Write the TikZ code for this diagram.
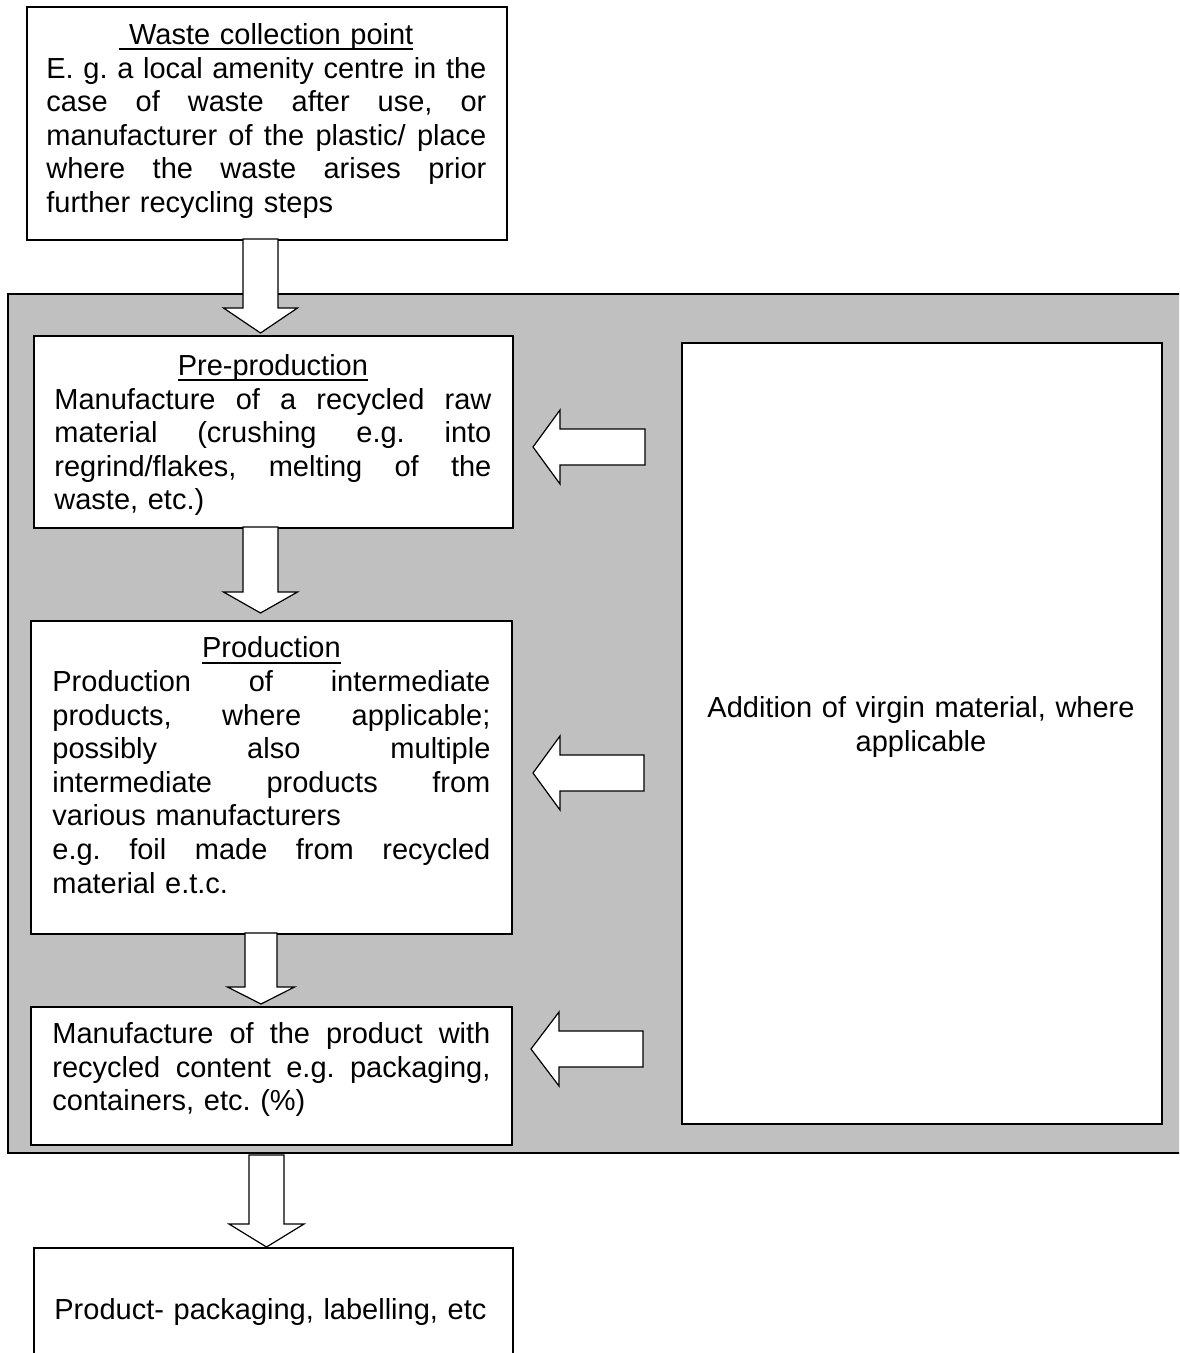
\documentclass[tikz,border=0pt]{standalone}
\usepackage{fontspec}
\setmainfont{Liberation Sans}
\usetikzlibrary{calc}
\definecolor{panelgray}{RGB}{192,192,192}

\newcommand{\ulbox}[1]{\setbox0\hbox{#1}\rlap{\rule[-3pt]{\wd0}{1pt}}\box0}
\def\jwA#1 #2\jwend{#1\if\relax\detokenize{#2}\relax\else\hfill\jwA#2\jwend\fi}
\newcommand{\tjust}[1]{\hbox to\linewidth{\strut\jwA#1 \jwend}\par}
\newcommand{\tleft}[1]{\makebox[\linewidth][l]{\strut#1}\par}
\newcommand{\tcent}[1]{\makebox[\linewidth][c]{\strut#1}\par}

\newcommand{\downblock}[5]{%
  \draw[blockarrow] let \p1=(#1), \p2=(#2) in
    (\x1-#4,\y1) -- (\x1-#4,\y2+#3) -- (\x1-#5,\y2+#3) -- (\x2,\y2)
    -- (\x1+#5,\y2+#3) -- (\x1+#4,\y2+#3) -- (\x1+#4,\y1) -- cycle;}
\newcommand{\leftblock}[5]{%
  \draw[blockarrow] let \p1=(#1), \p2=(#2) in
    (\x1,\y1+#4) -- (\x2+#3,\y1+#4) -- (\x2+#3,\y1+#5) -- (\x2,\y2)
    -- (\x2+#3,\y1-#5) -- (\x2+#3,\y1-#4) -- (\x1,\y1-#4) -- cycle;}

\begin{document}
\frenchspacing
\begin{tikzpicture}[x=0.5pt,y=-0.5pt,
  panel/.style={draw=black, line width=0.9pt, fill=white, inner sep=0pt, anchor=north west},
  txt/.style={inner sep=0pt, font=\fontsize{14.5pt}{16.8pt}\selectfont},
  blockarrow/.style={draw=black, line width=0.6pt, fill=white, line join=miter}]
\useasboundingbox (0,0) rectangle (1179,1353);
\clip (0,0) rectangle (1179,1353);

% boxes
\node[panel, minimum width=240pt, minimum height=116.5pt] (waste) at (26,6) {};
\node[panel, fill=panelgray, minimum width=600pt, minimum height=429.5pt] (group) at (7,293) {};
\node[panel, minimum width=239.5pt, minimum height=96pt] (pre) at (33,335) {};
\node[panel, minimum width=240.5pt, minimum height=156.5pt] (prod) at (30,620) {};
\node[panel, minimum width=240.5pt, minimum height=69pt] (manu) at (30,1006) {};
\node[panel, minimum width=239.5pt, minimum height=80pt] (product) at (33,1247) {};
\node[panel, minimum width=240pt, minimum height=390.5pt] (virgin) at (681,342) {};

% texts
\node[txt, text width=220pt, anchor=north west] (wastetext) at (46,20.5) {%
\tcent{\ulbox{\ Waste collection point}}
\tjust{E. g. a local amenity centre in the}
\tjust{case of waste after use, or}
\tjust{manufacturer of the plastic/ place}
\tjust{where the waste arises prior}
\tleft{further recycling steps}};

\node[txt, text width=218.5pt, anchor=north west] (pretext) at (54,351.5) {%
\tcent{\ulbox{Pre-production}}
\tjust{Manufacture of a recycled raw}
\tjust{material (crushing e.g. into}
\tjust{regrind/flakes, melting of the}
\tleft{waste, etc.)}};

\node[txt, text width=219pt, anchor=north west] (prodtext) at (52,634) {%
\tcent{\ulbox{Production}}
\tjust{Production of intermediate}
\tjust{products, where applicable;}
\tjust{possibly also multiple}
\tjust{intermediate products from}
\tleft{various manufacturers}
\tjust{e.g. foil made from recycled}
\tleft{material e.t.c.}};

\node[txt, text width=219pt, anchor=north west] (manutext) at (52,1019.5) {%
\tjust{Manufacture of the product with}
\tjust{recycled content e.g. packaging,}
\tleft{containers, etc. (\%)}};

\node[txt, text width=220pt, anchor=north west] (producttext) at (54,1295.5) {%
\tleft{Product- packaging, labelling, etc}};

\node[txt, text width=235pt, anchor=north] (virgintext) at (921,693.5) {%
\tcent{Addition of virgin material, where}
\tcent{applicable}};

% arrow coordinates
\coordinate (a1s) at (260.5,239);  \coordinate (a1t) at (260.5,333);
\coordinate (a2s) at (260.5,527);  \coordinate (a2t) at (260.5,613);
\coordinate (a3s) at (261,933);    \coordinate (a3t) at (261,1004);
\coordinate (a4s) at (266.5,1155); \coordinate (a4t) at (266.5,1247);
\coordinate (l1s) at (645,447);    \coordinate (l1t) at (533,447);
\coordinate (l2s) at (644,773);    \coordinate (l2t) at (533,773);
\coordinate (l3s) at (643,1049);   \coordinate (l3t) at (531,1049);

\downblock{a1s}{a1t}{12.5pt}{8.75pt}{18.5pt}
\downblock{a2s}{a2t}{10.5pt}{8.75pt}{18.5pt}
\downblock{a3s}{a3t}{8.5pt}{8pt}{16.75pt}
\downblock{a4s}{a4t}{11.5pt}{8.75pt}{18.75pt}
\leftblock{l1s}{l1t}{13.5pt}{9pt}{18.5pt}
\leftblock{l2s}{l2t}{13.5pt}{9pt}{18.5pt}
\leftblock{l3s}{l3t}{14pt}{9pt}{18.5pt}
\end{tikzpicture}
\end{document}
